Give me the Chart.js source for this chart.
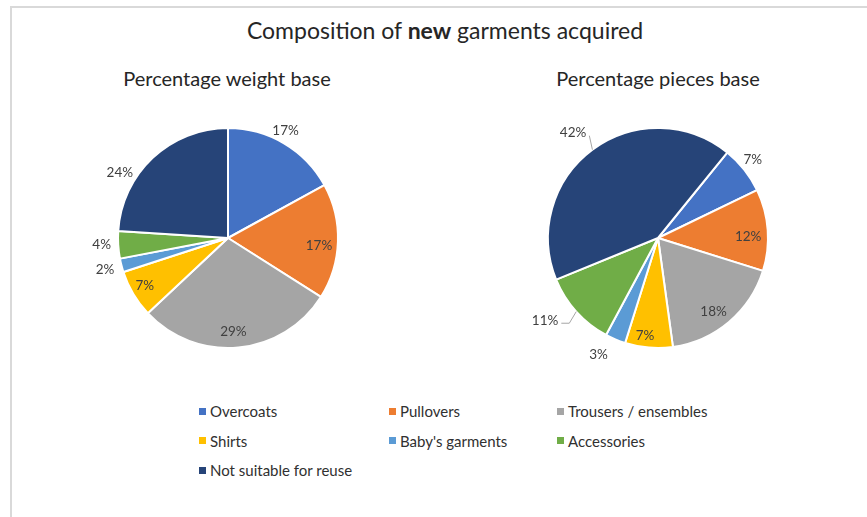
<!DOCTYPE html>
<html>
<head>
<meta charset="utf-8">
<title>Composition of new garments acquired</title>
<script src="https://cdn.jsdelivr.net/npm/chart.js@4.4.1/dist/chart.umd.min.js"></script>
<style>
  body { margin: 0; background: #fff; font-family: Lato, "Open Sans", sans-serif; color: #262626; }
  #page { position: relative; width: 867px; height: 517px; overflow: hidden; }
  #frame { position: absolute; left: 10px; top: 6px; width: 900px; height: 560px;
           border-left: 2px solid #d9d9d9; border-top: 2px solid #d9d9d9; }
  .title { position: absolute; white-space: nowrap; transform: translate(-50%, -50%); }
  #mainTitle { left: 445px; top: 30px; font-size: 23px; }
  .sub { top: 78px; font-size: 20px; }
  canvas { position: absolute; }
  #legend { position: absolute; left: 199px; top: 396.5px; display: grid;
            grid-template-columns: 190px 168px auto; grid-auto-rows: 29.5px; font-size: 15px; color: #303030; }
  #legend div { display: flex; align-items: center; white-space: nowrap; }
  #legend span { display: inline-block; width: 7px; height: 7px; margin-right: 4px; }
</style>
</head>
<body>
<div id="page">
  <div id="frame"></div>
  <div class="title" id="mainTitle">Composition of <b>new</b> garments acquired</div>
  <div class="title sub" style="left:227px">Percentage weight base</div>
  <div class="title sub" style="left:658px">Percentage pieces base</div>
  <canvas id="weightPie" width="300" height="300" style="left:78px;top:88px"></canvas>
  <canvas id="piecesPie" width="300" height="300" style="left:508px;top:88px"></canvas>
  <div id="legend"></div>
</div>
<script>
const categories = ['Overcoats', 'Pullovers', 'Trousers / ensembles', 'Shirts',
                    "Baby's garments", 'Accessories', 'Not suitable for reuse'];
const weightShare = [17, 17, 29, 7, 2, 4, 24];
const piecesShare = [7, 12, 18, 7, 3, 11, 42];

const colors = ['#4472c4', '#ed7d31', '#a5a5a5', '#ffc000', '#5b9bd5', '#70ad47', '#264478'];

// where each percentage sits: f = fraction along the slice arc, r = fraction of radius
const weightPlace = [
  { f: 0.46, r: 1.11 }, { f: 0.55, r: 0.83 }, { f: 0.52, r: 0.855 }, { f: 0.54, r: 0.87 },
  { f: 0.47, r: 1.155 }, { f: 0.53, r: 1.15 }, { f: 0.32, r: 1.15 }
];
const piecesPlace = [
  { f: 0.45, r: 1.12 }, { f: 0.57, r: 0.82 }, { f: 0.55, r: 0.84 }, { f: 0.61, r: 0.9 },
  { f: 0.89, r: 1.19 }, { f: 0.65, r: 1.27, lead: true, knee: 8 }, { f: 0.485, r: 1.23, lead: true, knee: 0 }
];

const pctLabels = {
  id: 'pctLabels',
  afterDatasetsDraw(chart, args, opts) {
    const ctx = chart.ctx;
    const values = chart.data.datasets[0].data;
    ctx.save();
    ctx.font = '13.5px Lato, "Open Sans", sans-serif';
    ctx.textAlign = 'center';
    ctx.textBaseline = 'middle';
    chart.getDatasetMeta(0).data.forEach((arc, i) => {
      const p = opts.place[i];
      const { x, y, startAngle, endAngle, outerRadius } =
        arc.getProps(['x', 'y', 'startAngle', 'endAngle', 'outerRadius'], true);
      const a = startAngle + (endAngle - startAngle) * p.f;
      const lx = x + Math.cos(a) * outerRadius * p.r;
      const ly = y + Math.sin(a) * outerRadius * p.r;
      const text = values[i] + '%';
      ctx.fillStyle = '#404040';
      ctx.fillText(text, lx, ly);
      if (p.lead) {
        const mid = (startAngle + endAngle) / 2;
        const ex = x + Math.cos(mid) * outerRadius;
        const ey = y + Math.sin(mid) * outerRadius;
        const sx = lx + ctx.measureText(text).width / 2 + 3;
        const sy = ly + 3;
        ctx.strokeStyle = '#a6a6a6';
        ctx.lineWidth = 1;
        ctx.beginPath();
        ctx.moveTo(sx, sy);
        ctx.lineTo(sx + p.knee, sy);
        ctx.lineTo(ex, ey);
        ctx.stroke();
      }
    });
    ctx.restore();
  }
};

const makePie = (id, values, rotation, place) => new Chart(document.getElementById(id), {
  type: 'pie',
  data: {
    labels: categories,
    datasets: [{
      data: values,
      backgroundColor: colors,
      borderColor: '#ffffff',
      borderWidth: 2,
      radius: 110
    }]
  },
  options: {
    responsive: false,
    animation: false,
    rotation: rotation,
    events: [],
    layout: { padding: 0 },
    plugins: {
      legend: { display: false },
      tooltip: { enabled: false },
      pctLabels: { place: place }
    }
  },
  plugins: [pctLabels]
});

const weightChart = makePie('weightPie', weightShare, 0, weightPlace);
makePie('piecesPie', piecesShare, 39, piecesPlace);

// shared legend under both pies
const legend = document.getElementById('legend');
weightChart.data.labels.forEach((name, i) => {
  const item = document.createElement('div');
  item.innerHTML = '<span style="background:' + colors[i] + '"></span>' + name;
  legend.appendChild(item);
});
</script>
</body>
</html>
